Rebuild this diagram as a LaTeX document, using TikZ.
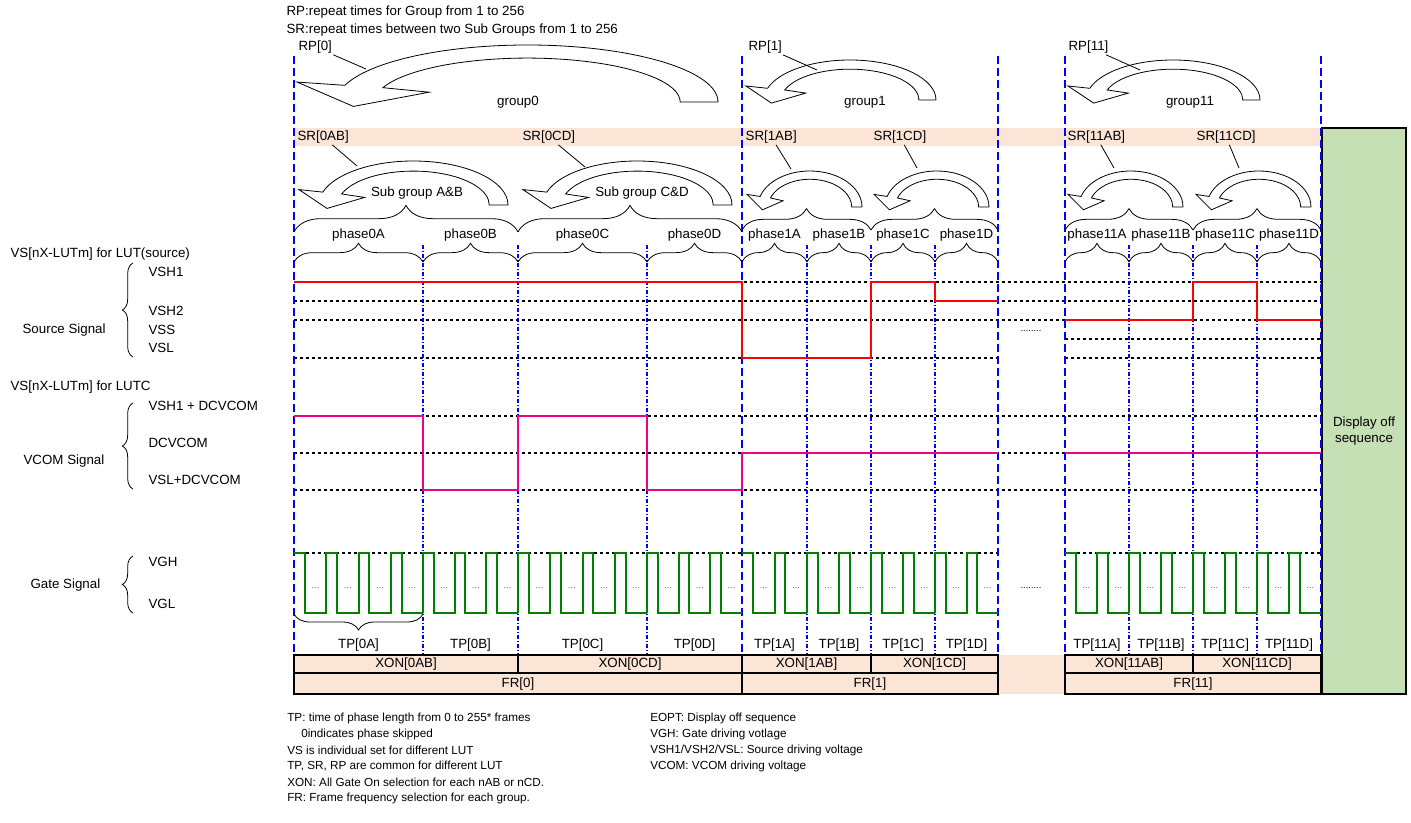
\documentclass[tikz,border=0pt]{standalone}
\usepackage{fontspec}
\setmainfont{Liberation Sans}
\usetikzlibrary{decorations.pathreplacing}

\definecolor{peach}{HTML}{FBE5D6}
\definecolor{offgreen}{HTML}{C5E0B4}
\definecolor{gategreen}{RGB}{0,128,0}

% u-turn block arrow: tip x, base y, width, height
\newcommand{\uturnarrow}[4]{%
  \begin{scope}[shift={(#1,#2)}, xscale=#3, yscale=-#4]
    \draw[arrowbody] (1,0) arc[start angle=0, end angle=163, x radius=0.453, y radius=1]
      -- (0,0.35) -- (0.134,-0.078) -- (0.314,0.172) -- (0.204,0.251)
      arc[start angle=161, end angle=0, x radius=0.363, y radius=0.77] -- cycle;
  \end{scope}}

\begin{document}
\begin{tikzpicture}[x=0.75pt,y=-0.75pt,
  lbl/.style={inner sep=1pt, font=\fontsize{10}{12}\selectfont},
  notes/.style={anchor=west, inner sep=0pt, font=\fontsize{8.8}{10}\selectfont},
  grpline/.style={blue, line width=2.2pt, dash pattern=on 6pt off 3pt},
  phline/.style={blue, line width=0.8pt, dash pattern=on 3pt off 1.5pt on 0.8pt off 1.5pt},
  level/.style={black, line width=1pt, dash pattern=on 2.5pt off 2pt},
  srcsig/.style={red, line width=2.2pt},
  comsig/.style={magenta, line width=2.2pt},
  gatesig/.style={gategreen, line width=1.5pt},
  arrowbody/.style={draw=black, line width=0.6pt, fill=white},
  leader/.style={black, line width=0.6pt},
  brc/.style={decorate, decoration={brace, amplitude=#1}, line width=0.6pt},
  cell/.style={draw=black, line width=1.5pt, fill=peach},
  gdots/.style={inner sep=0pt, text=black!60, font=\fontsize{7}{7}\selectfont}]

\useasboundingbox (0,0) rectangle (1411,823);

% header
\node[lbl, anchor=west] (rpnote) at (285,12) {RP:repeat times for Group from 1 to 256};
\node[lbl, anchor=west] (srnote) at (285,30) {SR:repeat times between two Sub Groups from 1 to 256};

% bands and end box
\fill[peach] (294,128) rectangle (1321,146);
\fill[peach] (998,655) rectangle (1065,694);
\draw[cell, fill=offgreen] (1322,128) rectangle (1406,694);
\node[lbl, align=center] (eopt) at (1364,431) {Display off\\sequence};

% level lines
\foreach \y in {282,301,320}
  \draw[level] (294,\y) -- (1321,\y);
\draw[level] (294,358) -- (998,358);
\draw[level] (1065,358) -- (1321,358);
\draw[level] (1065,339) -- (1321,339);
\foreach \y in {416,453,490}
  \draw[level] (294,\y) -- (1321,\y);
\draw[level] (294,553) -- (998,553);
\draw[level] (1065,553) -- (1321,553);

% group and phase borders
\foreach \gx in {294,742,998,1065,1321}
  \draw[grpline] (\gx,56) -- (\gx,655);
\foreach \px in {423,518,647,807,871,935,1129,1193,1257}
  \draw[phline] (\px,245) -- (\px,655);

% source and vcom signals
\draw[srcsig] (294,282) -- (742,282) -- (742,358) -- (871,358) -- (871,282)
  -- (935,282) -- (935,301) -- (998,301);
\draw[srcsig] (1065,320) -- (1193,320) -- (1193,282) -- (1257,282) -- (1257,320) -- (1321,320);
\draw[comsig] (294,416) -- (423,416) -- (423,490) -- (518,490) -- (518,416) -- (647,416)
  -- (647,490) -- (742,490) -- (742,453) -- (998,453);
\draw[comsig] (1065,453) -- (1321,453);

% phases: braces, names, gate pulses, TP
\foreach \xa/\xb/\n/\r/\nm in {294/423/4/0/0A, 423/518/3/1/0B, 518/647/4/1/0C, 647/742/3/1/0D,
    742/807/2/0/1A, 807/871/2/1/1B, 871/935/2/1/1C, 935/998/2/1/1D,
    1065/1129/2/0/11A, 1129/1193/2/1/11B, 1193/1257/2/1/11C, 1257/1321/2/1/11D} {
  \pgfmathsetmacro\p{(\xb-\xa)/\n}
  \draw[brc=14pt] (\xa,262) -- (\xb,262);
  \node[lbl] (ph\nm) at ({(\xa+\xb)/2},235) {phase\nm};
  \node[lbl] (tp\nm) at ({(\xa+\xb)/2},645) {TP[\nm]};
  \draw[gatesig] (\xa,553+60*\r) -- (\xa,553) -- ++(\p/3,0) -- ++(0,60) -- ++(2*\p/3,0)
    foreach \k in {2,...,\n} { -- ++(0,-60) -- ++(\p/3,0) -- ++(0,60) -- ++(2*\p/3,0) };
  \foreach \k in {1,...,\n}
    \node[gdots] at ({\xa+(\k-1)*\p+2*\p/3},588) {...};
}
\draw[brc=12pt] (423,614) -- (294,614);

% sub groups
\draw[brc=20pt] (294,232) -- (518,232);
\draw[brc=20pt] (518,232) -- (742,232);
\foreach \xa/\xb in {742/871, 871/998, 1065/1193, 1193/1321}
  \draw[brc=16pt] (\xa,230) -- (\xb,230);
\uturnarrow{299}{205}{209}{44}
\uturnarrow{523}{205}{209}{44}
\uturnarrow{747}{207}{115}{36}
\uturnarrow{874}{207}{115}{36}
\uturnarrow{1068}{207}{115}{36}
\uturnarrow{1196}{207}{115}{36}
\node[lbl] (subab) at (417,193) {Sub group A\&B};
\node[lbl] (subcd) at (642,193) {Sub group C\&D};

\node[lbl, anchor=west] (sr0ab) at (296,137) {SR[0AB]};
\node[lbl, anchor=west] (sr0cd) at (521,137) {SR[0CD]};
\node[lbl, anchor=west] (sr1ab) at (744,137) {SR[1AB]};
\node[lbl, anchor=west] (sr1cd) at (872,137) {SR[1CD]};
\node[lbl, anchor=west] (sr11ab) at (1066,137) {SR[11AB]};
\node[lbl, anchor=west] (sr11cd) at (1195,137) {SR[11CD]};
\coordinate (sr0abend) at (357,166);
\coordinate (sr0cdend) at (585,167);
\coordinate (sr1abend) at (791,169);
\coordinate (sr1cdend) at (917,168);
\coordinate (sr11abend) at (1114,168);
\coordinate (sr11cdend) at (1239,168);
\foreach \nm in {0ab,0cd,1ab,1cd,11ab,11cd}
  \draw[leader] (sr\nm) -- (sr\nm end);

% groups
\uturnarrow{297}{102}{421}{57}
\uturnarrow{746}{100}{190}{40}
\uturnarrow{1068}{100}{192}{40}
\node[lbl] (grp0) at (518,102) {group0};
\node[lbl] (grp1) at (865,102) {group1};
\node[lbl] (grp11) at (1190,102) {group11};
\node[lbl, anchor=west] (rp0) at (297,47) {RP[0]};
\node[lbl, anchor=west] (rp1) at (747,47) {RP[1]};
\node[lbl, anchor=west] (rp11) at (1067,47) {RP[11]};
\coordinate (rp0end) at (366,69);
\coordinate (rp1end) at (817,70);
\coordinate (rp11end) at (1140,70);
\foreach \nm in {0,1,11}
  \draw[leader] (rp\nm) -- (rp\nm end);

% gaps
\node[lbl, font=\fontsize{7}{7}\selectfont] (srcgap) at (1031,331) {........};
\node[lbl, font=\fontsize{7}{7}\selectfont] (gategap) at (1031,588) {........};

% XON and FR rows
\foreach \xa/\xb/\nm in {294/518/0AB, 518/742/0CD, 742/871/1AB, 871/998/1CD, 1065/1193/11AB, 1193/1321/11CD} {
  \draw[cell] (\xa,655) rectangle (\xb,673);
  \node[lbl] (xon\nm) at ({(\xa+\xb)/2},664) {XON[\nm]};
}
\foreach \xa/\xb/\nm in {294/742/0, 742/998/1, 1065/1321/11} {
  \draw[cell] (\xa,673) rectangle (\xb,694);
  \node[lbl] (fr\nm) at ({(\xa+\xb)/2},684) {FR[\nm]};
}

% left side labels
\node[lbl, anchor=west] (lutsrc) at (9,254) {VS[nX-LUTm] for LUT(source)};
\node[lbl, anchor=west] (vsh1) at (147,272) {VSH1};
\node[lbl, anchor=west] (vsh2) at (147,311) {VSH2};
\node[lbl, anchor=west] (vss) at (147,330) {VSS};
\node[lbl, anchor=west] (vsl) at (147,348) {VSL};
\node[lbl, anchor=west] (srcsignal) at (21,330) {Source Signal};
\draw[brc=8pt] (133,357) -- (133,263);

\node[lbl, anchor=west] (lutc) at (9,387) {VS[nX-LUTm] for LUTC};
\node[lbl, anchor=west] (vshcom) at (147,406) {VSH1 + DCVCOM};
\node[lbl, anchor=west] (dcvcom) at (147,443) {DCVCOM};
\node[lbl, anchor=west] (vslcom) at (147,480) {VSL+DCVCOM};
\node[lbl, anchor=west] (comsignal) at (22,461) {VCOM Signal};
\draw[brc=8pt] (133,489) -- (133,403);

\node[lbl, anchor=west] (vgh) at (147,562) {VGH};
\node[lbl, anchor=west] (vgl) at (147,604) {VGL};
\node[lbl, anchor=west] (gatesignal) at (29,585) {Gate Signal};
\draw[brc=8pt] (133,613) -- (133,556);

% notes
\node[notes] (n1) at (287,718) {TP: time of phase length from 0 to 255* frames};
\node[notes] (n2) at (301,734) {0indicates phase skipped};
\node[notes] (n3) at (287,750) {VS is individual set for different LUT};
\node[notes] (n4) at (287,766) {TP, SR, RP are common for different LUT};
\node[notes] (n5) at (287,782) {XON: All Gate On selection for each nAB or nCD.};
\node[notes] (n6) at (287,798) {FR: Frame frequency selection for each group.};
\node[notes] (n7) at (650,718) {EOPT: Display off sequence};
\node[notes] (n8) at (650,734) {VGH: Gate driving votlage};
\node[notes] (n9) at (650,750) {VSH1/VSH2/VSL: Source driving voltage};
\node[notes] (n10) at (650,766) {VCOM: VCOM driving voltage};
\end{tikzpicture}
\end{document}
